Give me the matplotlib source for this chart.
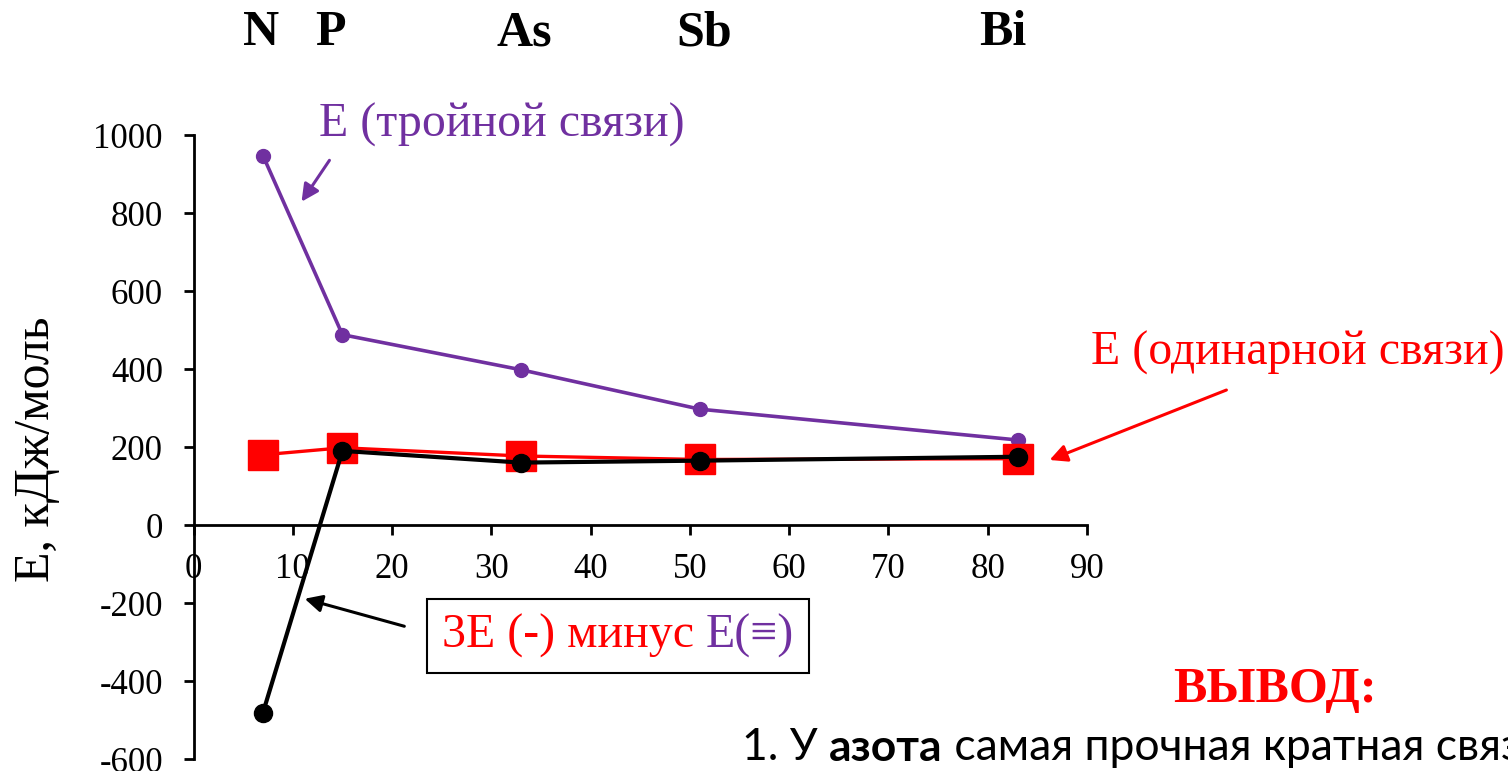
import matplotlib
matplotlib.use('Agg')
import matplotlib.pyplot as plt
import matplotlib.transforms as mtransforms
from matplotlib.offsetbox import TextArea, HPacker, AnnotationBbox

# ---- data ----
elements = ['N', 'P', 'As', 'Sb', 'Bi']
atomic_numbers = [7, 15, 33, 51, 83]
element_label_x = [6.8, 13.8, 33.3, 51.4, 81.5]
e_triple = [947, 488, 398, 297, 218]
e_single = [180, 198, 177, 168, 170]
e_diff = [-481, 190, 160, 165, 175]
x_ticks = [0, 10, 20, 30, 40, 50, 60, 70, 80, 90]
y_ticks = [-600, -400, -200, 0, 200, 400, 600, 800, 1000]

PURPLE = '#7030A0'
RED = '#FF0000'
SERIF = ['Liberation Serif', 'DejaVu Serif']

plt.rcParams['font.family'] = SERIF
plt.rcParams['axes.unicode_minus'] = False

W, H = 1508, 771
fig = plt.figure(figsize=(W / 100, H / 100), dpi=100)
fig.patch.set_facecolor('white')

x0, x1 = 193.5, 1087.0
y_top, y_bot = 135.0, 759.0
ax = fig.add_axes([x0 / W, (H - y_bot) / H, (x1 - x0) / W, (y_bot - y_top) / H])
ax.set_xlim(0, 90)
ax.set_ylim(-600, 1000)

ax.spines['top'].set_visible(False)
ax.spines['right'].set_visible(False)
ax.spines['bottom'].set_position(('data', 0))
for s in ('left', 'bottom'):
    ax.spines[s].set_linewidth(2)
ax.set_xticks(x_ticks)
ax.set_yticks(y_ticks)
ax.tick_params(axis='both', direction='out', length=7, width=2, labelsize=25)
ax.tick_params(axis='x', pad=13)
ax.tick_params(axis='y', pad=15)

ax.plot(atomic_numbers, e_triple, color=PURPLE, lw=2.6, marker='o', markersize=10, zorder=3)
ax.plot(atomic_numbers, e_single, color=RED, lw=2.4, marker='s', markersize=21, zorder=4)
ax.plot(atomic_numbers, e_diff, color='black', lw=3, marker='o', markersize=13, zorder=5)

ax.set_ylabel('Е, кДж/моль', fontsize=36)
ax.yaxis.set_label_coords((60 - x0) / (x1 - x0), (y_bot - 449) / (y_bot - y_top))

# element symbols on top
top_tr = mtransforms.blended_transform_factory(ax.transData, fig.transFigure)
for lx, el in zip(element_label_x, elements):
    ax.text(lx, 1 - 33 / H, el, transform=top_tr, fontsize=36, fontweight='bold',
            ha='center', va='center')


def px2data(px, py):
    return ((px - x0) / ((x1 - x0) / 90.0), (525.0 - py) / ((y_bot - y_top) / 1600.0))


# purple annotation
ax.annotate('', xy=px2data(300, 204), xytext=px2data(331, 158),
            arrowprops=dict(arrowstyle='-|>', color=PURPLE, lw=2.2, mutation_scale=26),
            annotation_clip=False)
ax.text(*px2data(502, 125), 'Е (тройной связи)', color=PURPLE, fontsize=34.5,
        ha='center', va='center', clip_on=False)

# red annotation
ax.annotate('', xy=px2data(1047, 461), xytext=px2data(1229, 389),
            arrowprops=dict(arrowstyle='-|>', color=RED, lw=2.2, mutation_scale=26),
            annotation_clip=False)
ax.text(*px2data(1298, 353), 'Е (одинарной связи)', color=RED, fontsize=34.5,
        ha='center', va='center', clip_on=False)

# boxed label
ax.annotate('', xy=px2data(302, 598), xytext=px2data(407, 627),
            arrowprops=dict(arrowstyle='-|>', color='black', lw=2.2, mutation_scale=26),
            annotation_clip=False)
ta1 = TextArea('3Е (-) минус ', textprops=dict(color=RED, fontsize=34.5, family=SERIF))
ta2 = TextArea('Е(≡)', textprops=dict(color=PURPLE, fontsize=34.5, family=SERIF))
pack = HPacker(children=[ta1, ta2], align='baseline', pad=0, sep=0)
ab = AnnotationBbox(pack, px2data(618, 636), xycoords='data', frameon=True,
                    box_alignment=(0.5, 0.5), pad=1.1,
                    bboxprops=dict(edgecolor='black', facecolor='white', lw=1.5),
                    annotation_clip=False)
ax.add_artist(ab)

# conclusion text
fig.text(1275 / W, 1 - 690 / H, 'ВЫВОД:', color=RED, fontsize=36, fontweight='bold',
         ha='center', va='center', family=SERIF)
ybl = 1 - 748 / H
t1 = fig.text(742 / W, ybl, '1. У ', fontsize=32, family='Lato', ha='left', va='center')
fig.canvas.draw()
r = fig.canvas.get_renderer()
bb = t1.get_window_extent(r)
t2 = fig.text(bb.x1 / W, ybl, 'азота', fontsize=32, family='Lato', fontweight='bold',
              ha='left', va='center')
bb2 = t2.get_window_extent(r)
fig.text(bb2.x1 / W, ybl, ' самая прочная кратная связь.', fontsize=32, family='Lato',
         ha='left', va='center')

fig.savefig('out.png', dpi=100)
